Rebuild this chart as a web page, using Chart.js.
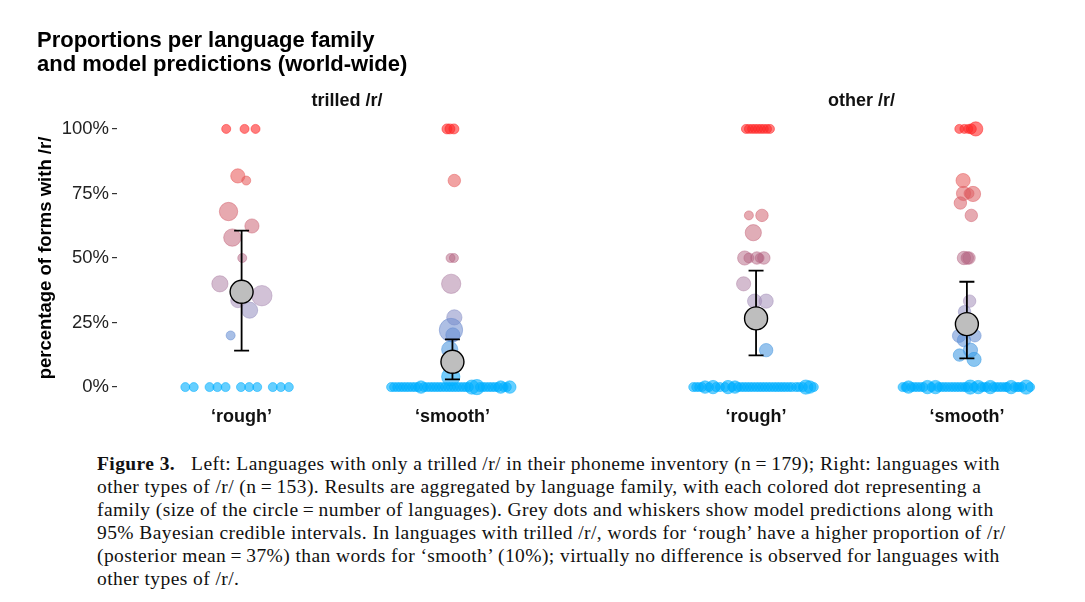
<!DOCTYPE html>
<html><head><meta charset="utf-8">
<script src="https://cdn.jsdelivr.net/npm/chart.js@4/dist/chart.umd.min.js"></script>
<style>
html,body{margin:0;padding:0;background:#fff;width:1085px;height:602px;overflow:hidden;}
#wrap{position:relative;width:1085px;height:602px;}
#title{position:absolute;left:37px;top:28px;font:bold 22px "Liberation Sans",Arial,sans-serif;line-height:23.5px;color:#000;}
#chartBox{position:absolute;left:0;top:0;width:1085px;height:440px;}
#caption{position:absolute;left:97px;top:452px;font:19.5px "Liberation Serif","Times New Roman",serif;letter-spacing:0.42px;line-height:23px;color:#111;white-space:nowrap;}
</style></head>
<body><div id="wrap">
<div id="chartBox"><canvas id="c" width="1085" height="440" style="width:1085px;height:440px"></canvas></div>
<div id="title">Proportions per language family<br>and model predictions (world-wide)</div>
<div id="caption"><b>Figure 3.</b>&nbsp;&nbsp; Left: Languages with only a trilled /r/ in their phoneme inventory (n&#8201;=&#8201;179); Right: languages with<br>other types of /r/ (n&#8201;=&#8201;153). Results are aggregated by language family, with each colored dot representing a<br>family (size of the circle&#8201;=&#8201;number of languages). Grey dots and whiskers show model predictions along with<br>95% Bayesian credible intervals. In languages with trilled /r/, words for ‘rough’ have a higher proportion of /r/<br>(posterior mean&#8201;=&#8201;37%) than words for ‘smooth’ (10%); virtually no difference is observed for languages with<br>other types of /r/.</div>
</div>
<script>
// ---------- data ----------
const panels = ["trilled /r/", "other /r/"];
const xTickLabels = ["‘rough’", "‘smooth’", "‘rough’", "‘smooth’"];
const categoryX = [1, 2, 3.44, 4.44];
const yTicks = [0, 25, 50, 75, 100];

// model predictions (posterior mean and 95% CrI), in %
const modelMean  = [36.9, 9.8, 26.6, 24.4];
const modelLower = [14.1, 3.0, 12.3, 11.1];
const modelUpper = [60.6, 18.5, 45.1, 40.8];

// trilled /r/, 'rough'
const trilledRoughValues = [100,100,100,81.8,80,68,62.4,57.9,50,40,35.4,33.5,29.8,20, 0,0,0,0,0,0,0,0,0,0,0];
const trilledRoughJitter = [-0.073,0.014,0.066,-0.018,0.022,-0.062,0.049,-0.044,0.003,-0.103,0.096,-0.018,0.038,-0.052, -0.267,-0.227,-0.152,-0.115,-0.076,-0.003,0.036,0.074,0.148,0.186,0.224];
const trilledRoughSizes  = [1,1,1,10,1,24,10,20,1,16,33,10,16,1, 1,1,1,1,1,1,1,1,1,1,1];

// trilled /r/, 'smooth'
const trilledSmoothValues = [100,100,100,80,50,50,40,27,22.1,20.2,14.6,4,
  0,0,0,0,0,0,0,0,0,0,0,0,0,0,0,0,0,0,0,0,0,0,0,0,0,0,0,0,0,0,0,0,0,0,0,0,0,0,0,0];
const trilledSmoothJitter = [-0.026,-0.012,0.007,0.009,-0.009,0.007,-0.006,0.009,-0.007,0.002,-0.013,-0.008,
  -0.291,-0.277,-0.262,-0.248,-0.234,-0.220,-0.206,-0.191,-0.177,-0.163,-0.149,-0.135,-0.121,-0.106,-0.092,-0.078,-0.064,-0.050,-0.035,-0.021,-0.007,0.007,0.021,0.035,0.050,0.064,0.078,0.092,0.116,0.130,0.144,0.158,0.173,0.187,0.201,0.215,0.229,0.243,0.258,0.272];
const trilledSmoothSizes = [2,2,2,6,1,1,28,13,49,10,16,24,
  1,1,1,1,1,1,1,1,1,1,6,1,1,1,1,1,1,1,1,1,1,1,1,1,1,1,1,10,13,1,1,1,1,1,1,1,6,1,1,6];

// other /r/, 'rough'
const otherRoughValues = [100,100,100,100,100,100,100,100,100,66.5,66.5,59.8,50,50,50,50,50,40,33.3,33.3,14.3,
  0,0,0,0,0,0,0,0,0,0,0,0,0,0,0,0,0,0,0,0,0,0,0,0,0,0,0,0,0,0,0,0,0,0,0,0,0,0];
const otherRoughJitter = [-0.048,-0.034,-0.019,-0.005,0.009,0.023,0.037,0.052,0.066,-0.034,0.028,-0.013,-0.054,-0.034,0.004,0.017,0.037,-0.059,-0.007,0.048,0.048,
  -0.298,-0.284,-0.270,-0.256,-0.242,-0.223,-0.204,-0.190,-0.171,-0.147,-0.133,-0.114,-0.100,-0.086,-0.071,-0.057,-0.043,-0.029,-0.015,0.000,0.014,0.028,0.042,0.056,0.070,0.085,0.099,0.113,0.127,0.141,0.156,0.170,0.189,0.203,0.222,0.236,0.255,0.274];
const otherRoughSizes = [1,1,1,1,1,1,1,1,1,1,6,16,10,2,6,1,6,10,10,10,8,
  1,1,1,1,6,1,8,1,1,1,8,1,6,1,1,1,1,1,1,1,1,1,1,1,1,1,1,1,1,1,1,1,1,1,1,10,6,1];

// other /r/, 'smooth'
const otherSmoothValues = [100,100,100,100,100,80,75,75,74.8,71.3,66.5,50,50,50,33.3,29.2,19.9,19.9,18.2,12.4,14.3,10.7,
  0,0,0,0,0,0,0,0,0,0,0,0,0,0,0,0,0,0,0,0,0,0,0,0,0,0,0,0,0,0,0,0,0,0,0,0,0,0,0,0,0,0];
const otherSmoothJitter = [-0.036,-0.012,0.007,0.021,0.042,-0.018,-0.016,0.010,0.029,-0.031,0.021,-0.014,0.002,0.010,0.013,-0.011,-0.037,0.038,-0.014,-0.035,0.017,0.034,
  -0.305,-0.291,-0.277,-0.263,-0.249,-0.235,-0.220,-0.206,-0.187,-0.168,-0.149,-0.135,-0.121,-0.107,-0.093,-0.078,-0.064,-0.050,-0.036,-0.022,-0.008,0.007,0.016,0.035,0.054,0.068,0.082,0.096,0.111,0.125,0.139,0.153,0.167,0.182,0.191,0.210,0.225,0.239,0.248,0.262,0.281,0.300];
const otherSmoothSizes = [1,1,1,2,10,10,10,2,13,6,6,8,6,6,6,6,8,6,8,6,10,10,
  1,1,6,1,1,1,1,1,8,1,8,1,1,1,1,1,1,1,1,1,1,1,10,1,8,1,1,1,8,1,1,1,1,1,1,8,1,1,1,1,10,1];

// ---------- styling helpers ----------
const SANS = '"Liberation Sans", Arial, Helvetica, sans-serif';
const colorStops = [[0,[0,175,255]],[20,[100,140,210]],[35,[170,140,180]],[50,[180,100,130]],[80,[230,90,90]],[100,[255,40,40]]];
function familyRGB(v){
  for (let i = 1; i < colorStops.length; i++){
    const [v1,c1] = colorStops[i-1], [v2,c2] = colorStops[i];
    if (v <= v2){
      const t = (v - v1) / (v2 - v1);
      return c1.map((c,k)=>Math.round(c + (c2[k]-c)*t));
    }
  }
  return colorStops[colorStops.length-1][1];
}
function familyColor(v, extra){
  const a = 0.5 + 0.1*Math.abs(v-50)/50 + (extra||0);
  const c = familyRGB(v);
  return `rgba(${c[0]},${c[1]},${c[2]},${a.toFixed(3)})`;
}
function familyRadius(n){ return 4.5 + 1.2*(Math.sqrt(n)-1); }

function groupPoints(values, jitter, sizes, g){
  return values.map((v,i)=>({x: categoryX[g] + jitter[i], y: v, n: sizes[i]}));
}
function familyDataset(label, pts){
  return {
    label, data: pts, order: 2,
    backgroundColor: ctx => familyColor(ctx.raw ? ctx.raw.y : 0, 0),
    borderColor: ctx => familyColor(ctx.raw ? ctx.raw.y : 0, 0.08),
    borderWidth: 0.8,
    pointRadius: ctx => familyRadius(ctx.raw ? ctx.raw.n : 1),
    pointHoverRadius: ctx => familyRadius(ctx.raw ? ctx.raw.n : 1)
  };
}

const datasets = [
  familyDataset('trilled rough', groupPoints(trilledRoughValues, trilledRoughJitter, trilledRoughSizes, 0)),
  familyDataset('trilled smooth', groupPoints(trilledSmoothValues, trilledSmoothJitter, trilledSmoothSizes, 1)),
  familyDataset('other rough', groupPoints(otherRoughValues, otherRoughJitter, otherRoughSizes, 2)),
  familyDataset('other smooth', groupPoints(otherSmoothValues, otherSmoothJitter, otherSmoothSizes, 3)),
  {
    label: 'model', isModel: true, order: 1,
    data: categoryX.map((x,i)=>({x, y: modelMean[i]})),
    backgroundColor: '#bebebe', borderColor: '#000', borderWidth: 1.4,
    pointRadius: 11.5, pointHoverRadius: 11.5
  }
];

const whiskerPlugin = {
  id: 'whiskers',
  beforeDatasetDraw(chart, args){
    const ds = chart.data.datasets[args.index];
    if (!ds.isModel) return;
    const {ctx, scales:{x, y}} = chart;
    ctx.save();
    ctx.strokeStyle = '#000'; ctx.lineWidth = 1.8;
    categoryX.forEach((cx,i)=>{
      const px = x.getPixelForValue(cx);
      const top = y.getPixelForValue(modelUpper[i]);
      const bot = y.getPixelForValue(modelLower[i]);
      ctx.beginPath();
      ctx.moveTo(px, top); ctx.lineTo(px, bot);
      ctx.moveTo(px-7.5, top); ctx.lineTo(px+7.5, top);
      ctx.moveTo(px-7.5, bot); ctx.lineTo(px+7.5, bot);
      ctx.stroke();
    });
    ctx.restore();
  }
};

const panelLabelPlugin = {
  id: 'panelLabels',
  afterDraw(chart){
    const {ctx, scales:{x}, chartArea} = chart;
    ctx.save();
    ctx.font = 'bold 18px ' + SANS;
    ctx.fillStyle = '#111';
    ctx.textAlign = 'center'; ctx.textBaseline = 'middle';
    panels.forEach((p,i)=>{
      const cx = (categoryX[2*i] + categoryX[2*i+1]) / 2;
      ctx.fillText(p, x.getPixelForValue(cx), chartArea.top - 15);
    });
    ctx.restore();
  }
};

new Chart(document.getElementById('c'), {
  type: 'scatter',
  data: { datasets },
  plugins: [whiskerPlugin, panelLabelPlugin],
  options: {
    responsive: false,
    animation: false,
    events: [],
    layout: { padding: { left: 35, right: 10, top: 116, bottom: 10 } },
    plugins: { legend: { display: false }, tooltip: { enabled: false }, title: { display: false } },
    scales: {
      x: {
        type: 'linear', min: 0.409, max: 4.939,
        afterBuildTicks: s => { s.ticks = categoryX.map(v=>({value: v})); },
        afterFit: s => { s.height = 30; },
        grid: { display: false, drawTicks: false },
        border: { display: false },
        ticks: {
          callback: (v, i) => xTickLabels[i],
          font: { family: SANS, size: 18, weight: 'bold' }, color: '#111',
          padding: 6, maxRotation: 0, autoSkip: false
        }
      },
      y: {
        type: 'linear', min: -5, max: 105,
        afterBuildTicks: s => { s.ticks = yTicks.map(v=>({value: v})); },
        afterFit: s => { s.width = 82; },
        grid: { drawOnChartArea: false, drawTicks: true, tickLength: 5, color: '#333', lineWidth: 1.2 },
        border: { display: false },
        ticks: { callback: v => v + '%', font: { family: SANS, size: 18.5 }, color: '#222', padding: 3 },
        title: { display: true, text: 'percentage of forms with /r/', font: { family: SANS, size: 18.5, weight: 'bold' }, color: '#000', padding: { top: 0, bottom: 0 } }
      }
    }
  }
});
</script>
</body></html>
